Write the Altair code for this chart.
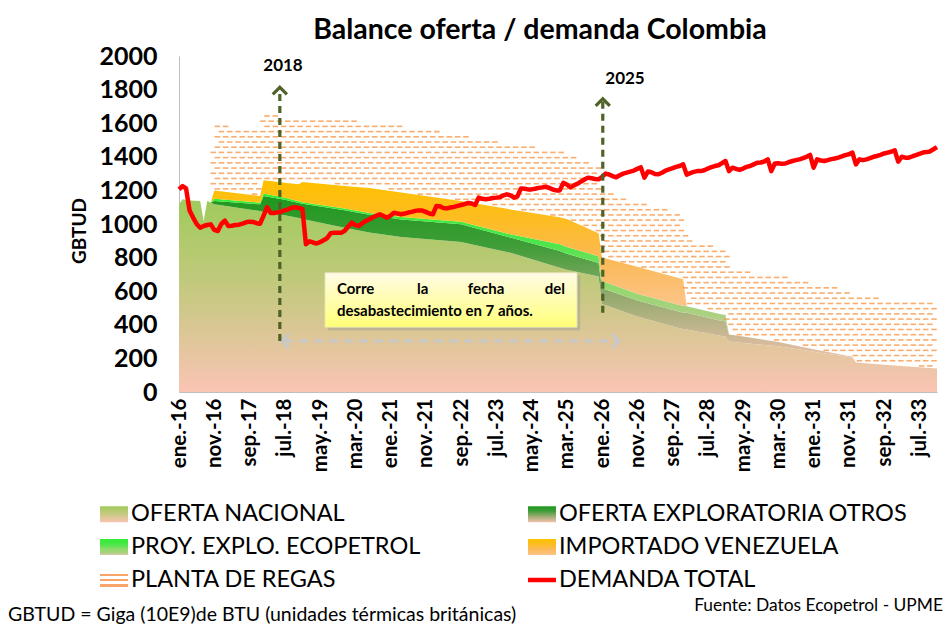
import altair as alt
import numpy as np
import pandas as pd

# ---------------- data ----------------
MESES = ["ene.", "feb.", "mar.", "abr.", "may.", "jun.", "jul.", "ago.", "sep.", "oct.", "nov.", "dic."]
SERIES = ["OFERTA NACIONAL", "OFERTA EXPLORATORIA OTROS", "PROY. EXPLO. ECOPETROL",
          "IMPORTADO VENEZUELA", "PLANTA DE REGAS", "DEMANDA TOTAL"]

# month index (0 = ene.-16) where the supply series change slope
KEY_MONTHS = [0, 1, 3, 6, 7, 8, 9, 10, 23, 24, 30, 34, 35, 47, 54, 63, 80, 94, 108, 110,
              119, 120, 130, 143, 144, 154, 155, 156, 160, 170, 180, 191, 192, 200, 215]
OFERTA_NACIONAL = [1117, 1147, 1140, 1137, 1018, 1137, 1128, 1117, 1077, 1072, 1052, 1035, 1030,
                   978, 950, 922, 893, 829, 740, 728, 688, 524, 450, 373, 372, 333, 331, 300,
                   292, 272, 240, 205, 175, 162, 140]
OFERTA_EXPLORATORIA = [0, 0, 0, 0, 0, 0, 0, 20, 40, 95, 92, 90, 90, 104, 105, 105, 105, 90, 99, 95,
                       80, 93, 95, 99, 99, 90, 90, 43, 38, 25, 14, 5, 0, 0, 0]
PROY_ECOPETROL = [0, 0, 0, 0, 0, 0, 0, 13, 10, 14, 12, 10, 10, 10, 10, 14, 16, 20, 40, 40,
                  40, 44, 40, 40, 40, 39, 39, 0, 0, 0, 0, 0, 0, 0, 0]
IMPORTADO_VENEZUELA = [0, 0, 0, 0, 0, 0, 0, 50, 40, 79, 89, 101, 120, 134, 150, 146, 123, 148, 161, 167,
                       137, 139, 160, 159, 0, 0, 0, 0, 0, 0, 0, 0, 0, 0, 0]
PLANTA_REGAS = [0, 0, 0, 0, 0, 0, 0] + [400] * 28

DEMANDA_2016 = [1206, 1226, 1212, 1080, 1038, 1000, 978, 988, 994, 998, 965, 958]
DEMANDA_2017 = [1000, 1020, 988, 990, 994, 996, 1002, 1010, 1014, 1012, 1005, 1002]
DEMANDA_2018 = [1050, 1100, 1065, 1065, 1070, 1073, 1082, 1087, 1097, 1100, 1095, 1090]
DEMANDA_2019 = [880, 897, 890, 884, 892, 903, 915, 945, 948, 948, 948, 960]
DEMANDA_2020 = [985, 1008, 993, 988, 1005, 1018, 1028, 1040, 1050, 1058, 1048, 1038]
DEMANDA_2021 = [1050, 1067, 1062, 1058, 1062, 1068, 1072, 1078, 1081, 1080, 1072, 1062]
DEMANDA_2022 = [1058, 1107, 1105, 1095, 1093, 1098, 1102, 1108, 1113, 1118, 1125, 1122]
DEMANDA_2023 = [1113, 1157, 1150, 1147, 1150, 1155, 1157, 1160, 1170, 1177, 1170, 1157]
DEMANDA_2024 = [1165, 1212, 1210, 1206, 1206, 1210, 1215, 1218, 1222, 1215, 1205, 1200]
DEMANDA_2025 = [1200, 1245, 1235, 1218, 1230, 1240, 1252, 1265, 1276, 1272, 1268, 1266]
DEMANDA_2026 = [1280, 1300, 1295, 1285, 1278, 1290, 1300, 1306, 1312, 1318, 1328, 1337]
DEMANDA_2027 = [1276, 1312, 1308, 1298, 1296, 1305, 1318, 1325, 1332, 1340, 1345, 1355]
DEMANDA_2028 = [1294, 1303, 1310, 1315, 1315, 1320, 1330, 1338, 1345, 1350, 1362, 1375]
DEMANDA_2029 = [1315, 1335, 1328, 1322, 1330, 1340, 1345, 1355, 1365, 1366, 1372, 1385]
DEMANDA_2030 = [1315, 1360, 1362, 1358, 1360, 1368, 1375, 1380, 1385, 1392, 1400, 1411]
DEMANDA_2031 = [1335, 1385, 1378, 1375, 1380, 1386, 1390, 1395, 1402, 1410, 1415, 1425]
DEMANDA_2032 = [1355, 1385, 1380, 1385, 1392, 1400, 1405, 1412, 1420, 1425, 1430, 1439]
DEMANDA_2033 = [1371, 1400, 1395, 1395, 1402, 1410, 1418, 1425, 1428, 1432, 1445, 1458]

Y_TICKS = list(range(0, 2001, 200))
X_TICKS = list(range(0, 211, 10))

# ---------------- tables ----------------
DEMANDA = (DEMANDA_2016 + DEMANDA_2017 + DEMANDA_2018 + DEMANDA_2019 + DEMANDA_2020 + DEMANDA_2021
           + DEMANDA_2022 + DEMANDA_2023 + DEMANDA_2024 + DEMANDA_2025 + DEMANDA_2026 + DEMANDA_2027
           + DEMANDA_2028 + DEMANDA_2029 + DEMANDA_2030 + DEMANDA_2031 + DEMANDA_2032 + DEMANDA_2033)
dem_df = pd.DataFrame({"m": np.arange(len(DEMANDA)), "v": DEMANDA})

km = np.array(KEY_MONTHS, dtype=float)
stack = np.array([OFERTA_NACIONAL, OFERTA_EXPLORATORIA, PROY_ECOPETROL, IMPORTADO_VENEZUELA, PLANTA_REGAS],
                 dtype=float)
tops = np.cumsum(stack, axis=0)
lows = tops - stack

rows = []
for si in range(5):
    th = stack[si]
    n = len(th)
    for i, m in enumerate(KEY_MONTHS):
        keep = th[i] > 0 or (i > 0 and th[i - 1] > 0) or (i < n - 1 and th[i + 1] > 0)
        if keep:
            rows.append({"serie": SERIES[si], "m": m, "v": lows[si, i], "hi": tops[si, i]})
area_df = pd.DataFrame(rows)

# hatch pattern (dashes) filling the regas band
dash = []
ROW_STEP, COL_STEP = 31.0, 2.35
for k in range(1, 60):
    yv = k * ROW_STEP
    x = 9.7 + (k % 2) * COL_STEP / 2
    while x <= 214.6:
        lo = np.interp(x, km, tops[3])
        hi = np.interp(x, km, tops[4])
        if lo + 7 < yv < hi - 7:
            dash.append({"m": x, "v": yv})
        x += COL_STEP
dash_df = pd.DataFrame(dash)

X_AXIS = alt.Axis(values=X_TICKS, title=None, grid=False, ticks=False, tickSize=0,
                  labelAngle=270, labelPadding=6, labelFont="Lato", labelFontSize=20.5,
                  labelFontWeight="bold", labelColor="#000000", domainColor="#bfbfbf",
                  labelOverlap=False,
                  labelExpr="['" + "','".join(MESES) + "'][datum.value % 12] + '-' + (16 + floor(datum.value / 12))")
Y_AXIS = alt.Axis(values=Y_TICKS, title=None, grid=False, ticks=False, tickSize=0, format="d",
                  labelOverlap=False,
                  labelPadding=22, labelFont="Lato", labelFontSize=25, labelFontWeight="bold",
                  labelColor="#000000", domainColor="#bfbfbf")
X_SCALE = alt.Scale(domain=[0, 215], nice=False, zero=False)
Y_SCALE = alt.Scale(domain=[0, 2000], nice=False)


def XE(f):
    return alt.X(f, scale=X_SCALE, axis=X_AXIS)


def YE(f):
    return alt.Y(f, scale=Y_SCALE, axis=Y_AXIS)


def lg(stops):
    return alt.LinearGradient(gradient="linear", x1=0, x2=0, y1=0, y2=1,
                              stops=[alt.GradientStop(color=c, offset=o) for o, c in stops])


STOPS = {
    "OFERTA NACIONAL": [(0, "#9fcb5c"), (0.45, "#c3c97e"), (1, "#fac4b4")],
    "OFERTA EXPLORATORIA OTROS": [(0, "#1e981e"), (0.3, "#3f9d38"), (0.6, "#93aa6e"), (1, "#f1c2ad")],
    "PROY. EXPLO. ECOPETROL": [(0, "#33ee33"), (0.35, "#4ce64a"), (0.62, "#8edb6a"), (0.86, "#abd082"), (1, "#d9c9a0")],
    "IMPORTADO VENEZUELA": [(0, "#ffc000"), (0.3, "#fdbd20"), (0.62, "#fbb955"), (1, "#fcc48a")],
}


def area_layer(name):
    return alt.Chart(area_df).transform_filter(alt.datum.serie == name).mark_area(
        color=lg(STOPS[name]), strokeWidth=0).encode(x=XE("m:Q"), y=YE("v:Q"), y2="hi:Q")


def gexpr(stops):
    s = ",".join("{offset:%s,color:'%s'}" % (o, c) for o, c in stops)
    return {"expr": "{gradient:'linear',x1:0,y1:0,x2:0,y2:1,stops:[%s]}" % s}


REGAS_SW = [(0, "#ffffff"), (0.14, "#ffffff"), (0.14, "#f9a468"), (0.27, "#f9a468"), (0.27, "#ffffff"),
            (0.46, "#ffffff"), (0.46, "#f9a468"), (0.59, "#f9a468"), (0.59, "#ffffff"), (0.78, "#ffffff"),
            (0.78, "#f9a468"), (0.91, "#f9a468"), (0.91, "#ffffff"), (1, "#ffffff")]
LEG_RANGE = [gexpr(STOPS[SERIES[0]]), gexpr(STOPS[SERIES[1]]), gexpr(STOPS[SERIES[2]]),
             gexpr(STOPS[SERIES[3]]), gexpr(REGAS_SW), "#ff0000"]
RECT = "M-1,-0.57L1,-0.57L1,0.57L-1,0.57Z"
LINE = "M-1,-0.16L1,-0.16L1,0.16L-1,0.16Z"

legend = alt.Legend(orient="none", legendX=-79, legendY=444, columns=2, direction="horizontal",
                    symbolSize=784, labelFont="Lato", labelFontSize=23.5, labelColor="#000000",
                    labelOffset=3, labelLimit=600, rowPadding=7, columnPadding=107,
                    symbolStrokeWidth=0, symbolOpacity=1, padding=0)

legend_layer = alt.Chart(pd.DataFrame({"serie": SERIES})).mark_point(filled=True, opacity=1, clip=True).encode(
    x=alt.value(-3000), y=alt.value(-3000),
    color=alt.Color("serie:N", scale=alt.Scale(domain=SERIES, range=LEG_RANGE), legend=legend, title=None),
    shape=alt.Shape("serie:N", scale=alt.Scale(domain=SERIES, range=[RECT] * 5 + [LINE]), legend=legend,
                    title=None),
)

hatch = alt.Chart(dash_df).mark_tick(orient="horizontal", size=5.5, thickness=1.6, color="#f79646",
                                     opacity=0.78).encode(x=XE("m:Q"), y=YE("v:Q"))

demand = alt.Chart(dem_df).mark_line(color="#ff0000", strokeWidth=4.5, strokeJoin="round").encode(
    x=XE("m:Q"), y=YE("v:Q"))

# annotation box
box_df = pd.DataFrame({"m": [41.4], "x2": [112.9], "v": [710], "y2": [385],
                       "sx": [42.3], "sx2": [113.8], "sy": [692], "sy2": [367]})
shadow = alt.Chart(box_df).mark_rect(color="#9a9a9a", opacity=0.45).encode(
    x=XE("sx:Q"), x2="sx2:Q", y=YE("sy:Q"), y2="sy2:Q")
box = alt.Chart(box_df).mark_rect(
    color=lg([(0, "#fffbe6"), (1, "#ffff78")]), stroke="#e6e2b8", strokeWidth=0.8).encode(
    x=XE("m:Q"), x2="x2:Q", y=YE("v:Q"), y2="y2:Q")

TXT = dict(font="Lato", fontSize=15, fontWeight="bold", color="#000000", baseline="middle")
words_l = pd.DataFrame({"m": [44.8, 44.8], "v": [611, 480], "t": ["Corre", "desabastecimiento en 7 años."]})
words_c = pd.DataFrame({"m": [69.1, 87.1], "v": [611, 611], "t": ["la", "fecha"]})
words_r = pd.DataFrame({"m": [109.5], "v": [611], "t": ["del"]})
txt_l = alt.Chart(words_l).mark_text(align="left", **TXT).encode(x=XE("m:Q"), y=YE("v:Q"), text="t:N")
txt_c = alt.Chart(words_c).mark_text(align="center", **TXT).encode(x=XE("m:Q"), y=YE("v:Q"), text="t:N")
txt_r = alt.Chart(words_r).mark_text(align="right", **TXT).encode(x=XE("m:Q"), y=YE("v:Q"), text="t:N")

# arrows
gray_df = pd.DataFrame({"m": [29.8, 124.2], "v": [304, 304]})
gray_line = alt.Chart(gray_df).mark_line(color="#c8c8c8", strokeWidth=3, strokeDash=[9, 6]).encode(
    x=XE("m:Q"), y=YE("v:Q"))
gray_l = alt.Chart(pd.DataFrame({"m": [30.2], "v": [304]})).mark_point(
    shape="M0.5,-1L-0.5,0L0.5,1", filled=False, size=196, strokeWidth=3, color="#c8c8c8", opacity=1).encode(
    x=XE("m:Q"), y=YE("v:Q"))
gray_r = alt.Chart(pd.DataFrame({"m": [123.8], "v": [304]})).mark_point(
    shape="M-0.5,-1L0.5,0L-0.5,1", filled=False, size=196, strokeWidth=3, color="#c8c8c8", opacity=1).encode(
    x=XE("m:Q"), y=YE("v:Q"))

green_df = pd.DataFrame({"m": [28.6, 28.6, 120.2, 120.2], "v": [304, 1805, 472, 1736], "g": ["a", "a", "b", "b"]})
green_line = alt.Chart(green_df).mark_line(color="#4f6228", strokeWidth=3.2, strokeDash=[7, 5]).encode(
    x=XE("m:Q"), y=YE("v:Q"), detail="g:N")
heads_df = pd.DataFrame({"m": [28.6, 120.2], "v": [1795, 1726]})
green_heads = alt.Chart(heads_df).mark_point(
    shape="M-1,0.55L0,-0.45L1,0.55", filled=False, size=200, strokeWidth=3.2, color="#4f6228", opacity=1).encode(
    x=XE("m:Q"), y=YE("v:Q"))
years_df = pd.DataFrame({"m": [29.5, 126.5], "v": [1940, 1863], "t": ["2018", "2025"]})
years = alt.Chart(years_df).mark_text(font="Lato", fontSize=17, fontWeight="bold", color="#000000",
                                      align="center", baseline="middle").encode(
    x=XE("m:Q"), y=YE("v:Q"), text="t:N")

one = pd.DataFrame({"a": [0]})
title = alt.Chart(one).mark_text(font="Lato", fontSize=28.5, fontWeight="bold", color="#000000",
                                 align="center", baseline="middle").encode(
    x=alt.value(361), y=alt.value(-26), text=alt.value("Balance oferta / demanda Colombia"))
ytitle = alt.Chart(one).mark_text(font="Lato", fontSize=19, fontWeight="bold", color="#000000",
                                  align="center", baseline="middle", angle=270).encode(
    x=alt.value(-99), y=alt.value(175), text=alt.value("GBTUD"))
note = alt.Chart(one).mark_text(font="Lato", fontSize=19.5, color="#000000", align="left",
                                baseline="middle").encode(
    x=alt.value(-171), y=alt.value(559), text=alt.value("GBTUD = Giga (10E9)de BTU (unidades térmicas británicas)"))
source = alt.Chart(one).mark_text(font="Lato", fontSize=17.4, color="#000000", align="right",
                                  baseline="middle").encode(
    x=alt.value(764), y=alt.value(550), text=alt.value("Fuente: Datos Ecopetrol - UPME"))

chart = alt.layer(
    legend_layer,
    area_layer(SERIES[0]), area_layer(SERIES[1]), area_layer(SERIES[2]), area_layer(SERIES[3]),
    hatch,
    shadow, box, txt_l, txt_c, txt_r,
    gray_line, gray_l, gray_r,
    demand,
    green_line, green_heads, years,
    title, ytitle, note, source,
).properties(
    width=758, height=336,
    autosize=alt.AutoSizeParams(type="none"),
    padding={"left": 171, "top": 48, "right": 6, "bottom": 236},
    background="#ffffff",
).configure_view(strokeWidth=0).configure_axis(labelOverlap=False)

chart.save("out.html", embed_options={"renderer": "svg", "actions": False})
